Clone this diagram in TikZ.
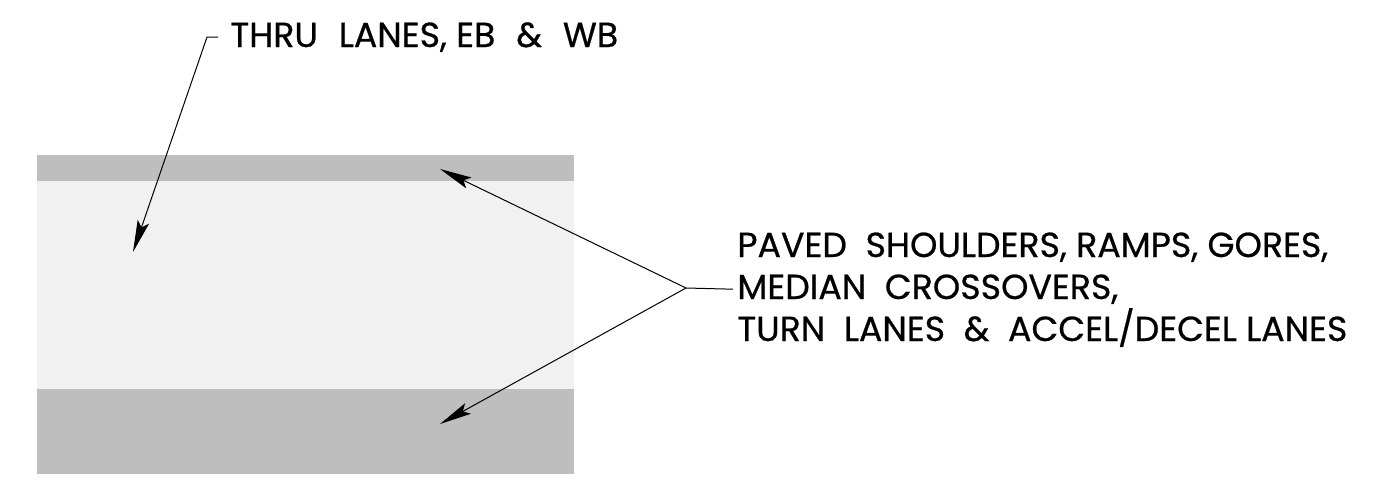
\documentclass[tikz,border=0pt]{standalone}
\usepackage{fontspec}
\setsansfont[FakeBold=0.6]{Poppins}
\usetikzlibrary{arrows.meta, positioning}
\definecolor{shoulder}{HTML}{BEBEBE}
\definecolor{lane}{HTML}{F1F1F1}

\begin{document}
\begin{tikzpicture}[x=0.5pt, y=-0.5pt,
    note/.style={font=\sffamily\fontsize{17.4}{21}\selectfont, inner sep=0pt, anchor=base west},
    leader/.style={line width=0.5pt, -{Stealth[length=16pt, width=6pt, inset=3pt]}}]
            \useasboundingbox (0,0) rectangle (1373,487);
            % Pavement
            \fill[lane] (37,181) rectangle (574,389);
            \fill[shoulder] (37,155) rectangle (574,181);
            \fill[shoulder] (37,389) rectangle (574,474);
            \coordinate (thrulane) at (133,252);
            \coordinate (shtop) at (440,169);
            \coordinate (shbot) at (440,424);
            \coordinate (split) at (686,288);
            % Nodes
            \node[note] (thru) at (230,47) {THRU\hspace{0.6em}LANES, EB\hspace{0.6em}\&\hspace{0.6em}WB};
            \node[note] (paved) at (737,257) {PAVED\ \ SHOULDERS, RAMPS, GORES,};
            \node[note, below=21pt of paved.base west, anchor=base west] (median) {MEDIAN\ \ CROSSOVERS,};
            \node[note, below=21pt of median.base west, anchor=base west] (turn) {TURN\ \ LANES \ \&\ \ ACCEL/DECEL LANES};
            % Arrows
            \draw[leader] ([xshift=-6pt]thru.west) -- ++(-11,0) -- (thrulane);
            \draw[line width=0.5pt] ([xshift=-2pt]median.west) -- (split);
            \draw[leader] (split) -- (shtop);
            \draw[leader] (split) -- (shbot);
        \end{tikzpicture}
\end{document}
